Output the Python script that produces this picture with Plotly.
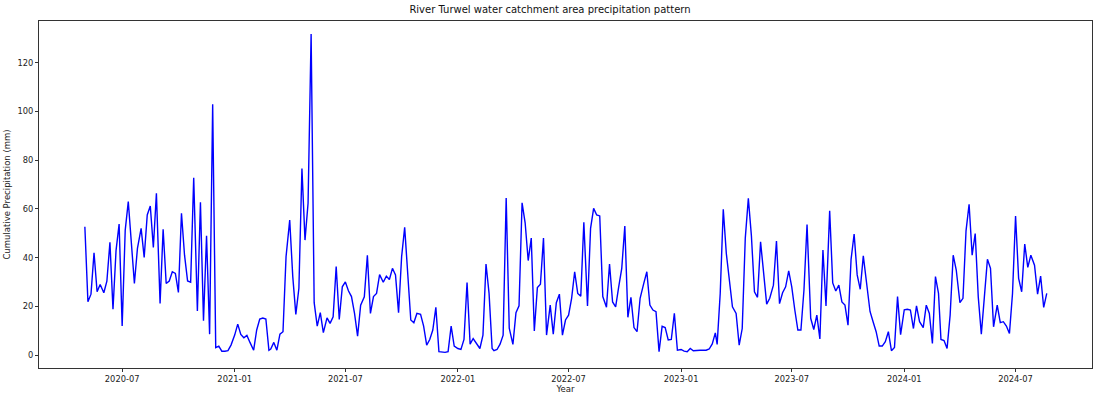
import plotly.graph_objects as go
import pandas as pd

# Pentad dates (1, 6, 11, 16, 21, 26 of each month) starting May 2020
pentad_days = [1, 6, 11, 16, 21, 26]
months = pd.date_range("2020-05-01", "2024-08-01", freq="MS")
dates = [m.replace(day=d) for m in months for d in pentad_days]

precip = [
    52.7, 21.9, 25.0, 42.0, 26.0, 29.0, 25.6, 30.3, 46.3, 18.8,
    43.0, 53.8, 11.9, 51.3, 63.0, 44.5, 29.4, 43.8, 52.0, 40.1,
    57.5, 61.2, 44.2, 66.4, 21.2, 51.6, 29.4, 30.4, 34.2, 33.5,
    25.7, 58.2, 41.0, 30.4, 29.9, 72.8, 18.1, 62.7, 14.1, 49.0,
    8.6, 102.9, 3.1, 3.7, 1.6, 1.6, 1.8, 4.1, 8.2, 12.7,
    8.5, 7.1, 8.1, 5.2, 2.0, 10.3, 14.8, 15.2, 14.8, 2.0,
    2.5, 5.2, 2.0, 8.6, 9.6, 40.4, 55.4, 32.2, 16.7, 27.4,
    76.6, 47.2, 62.3, 131.8, 21.5, 11.9, 17.4, 9.2, 15.3, 13.0,
    15.7, 36.3, 14.6, 28.0, 30.0, 26.4, 24.0, 17.1, 7.8, 20.5,
    23.9, 41.0, 17.1, 24.0, 25.3, 33.0, 29.9, 32.4, 31.0, 35.6,
    32.9, 17.4, 40.4, 52.4, 32.2, 14.4, 13.3, 17.1, 16.7, 11.9,
    4.1, 6.4, 10.3, 19.6, 1.4, 1.1, 1.1, 1.4, 11.9, 3.7,
    2.7, 2.3, 6.4, 29.8, 4.5, 6.8, 4.4, 2.7, 8.2, 37.4,
    25.3, 2.7, 1.8, 2.3, 4.5, 8.2, 64.5, 11.1, 4.4, 17.4,
    20.2, 62.5, 54.3, 38.8, 48.0, 9.9, 27.7, 29.1, 48.0, 8.2,
    20.5, 8.6, 21.5, 25.0, 8.2, 14.4, 16.4, 23.3, 34.2, 25.3,
    24.2, 54.5, 20.2, 52.0, 60.2, 57.5, 57.1, 24.0, 19.6, 37.4,
    21.8, 19.8, 28.0, 35.6, 53.0, 15.5, 23.7, 11.3, 9.6, 23.3,
    29.4, 34.2, 20.5, 18.5, 17.8, 1.4, 11.8, 11.3, 6.2, 6.4,
    17.1, 2.0, 2.3, 1.6, 1.4, 2.7, 1.8, 2.0, 2.0, 2.0,
    2.0, 2.5, 4.6, 9.1, 4.4, 25.3, 59.8, 41.7, 29.4, 19.8,
    17.1, 4.1, 10.9, 48.0, 64.3, 49.0, 26.0, 23.7, 46.5, 33.5,
    20.9, 23.3, 28.7, 46.8, 21.1, 25.6, 28.0, 34.6, 28.0, 18.5,
    10.3, 10.3, 26.8, 53.6, 15.1, 10.5, 16.4, 6.6, 43.1, 20.2,
    59.2, 29.6, 26.3, 28.7, 21.8, 20.5, 12.3, 39.3, 49.7, 32.9,
    27.0, 40.7, 29.5, 17.9, 13.7, 9.6, 3.7, 3.7, 5.5, 9.6,
    1.8, 3.1, 24.0, 8.4, 18.6, 18.8, 18.5, 10.9, 20.2, 13.7,
    11.3, 20.5, 17.1, 4.8, 32.2, 25.3, 6.4, 6.0, 2.7, 16.4,
    41.0, 34.9, 21.5, 23.3, 51.0, 61.9, 41.0, 49.9, 23.9, 8.6,
    23.9, 39.3, 35.6, 11.6, 20.5, 13.3, 13.7, 11.9, 8.9, 25.3,
    57.1, 31.5, 26.0, 45.6, 36.0, 41.0, 36.9, 25.0, 32.4, 19.6,
    25.3,
]
dates = dates[:len(precip)]

tick_vals = ["2020-07-01", "2021-01-01", "2021-07-01", "2022-01-01", "2022-07-01",
             "2023-01-01", "2023-07-01", "2024-01-01", "2024-07-01"]
tick_text = ["2020-07", "2021-01", "2021-07", "2022-01", "2022-07",
             "2023-01", "2023-07", "2024-01", "2024-07"]
y_ticks = [0, 20, 40, 60, 80, 100, 120]

fig = go.Figure()
fig.add_trace(go.Scatter(x=dates, y=precip, mode="lines",
                         line=dict(color="#0000ff", width=1.4)))

axis_common = dict(showline=True, linecolor="#333333", linewidth=0.9, mirror=True,
                   showgrid=False, zeroline=False, ticks="outside", ticklen=3,
                   tickcolor="#333333", tickfont=dict(size=8.3, color="#222222"))

fig.update_layout(
    width=1100, height=399,
    margin=dict(l=37, r=7, t=21, b=31),
    paper_bgcolor="white", plot_bgcolor="white",
    font=dict(family="DejaVu Sans", color="#222222"),
    showlegend=False,
    title=dict(text="River Turwel water catchment area precipitation pattern",
               x=0.5, xanchor="center", y=0.975, yanchor="middle",
               font=dict(size=10, color="#111111")),
    xaxis=dict(**axis_common, type="date", range=["2020-02-16", "2024-11-03"],
               tickvals=tick_vals, ticktext=tick_text,
               title=dict(text="Year", font=dict(size=8.5), standoff=2)),
    yaxis=dict(**axis_common, range=[-5.3, 137.1], tickvals=y_ticks,
               title=dict(text="Cumulative Precipitation (mm)", font=dict(size=8.5), standoff=5)),
)

fig.write_html("out.html", config={"displayModeBar": False},
               post_script="document.body.style.margin='0';document.body.style.overflow='hidden';")
